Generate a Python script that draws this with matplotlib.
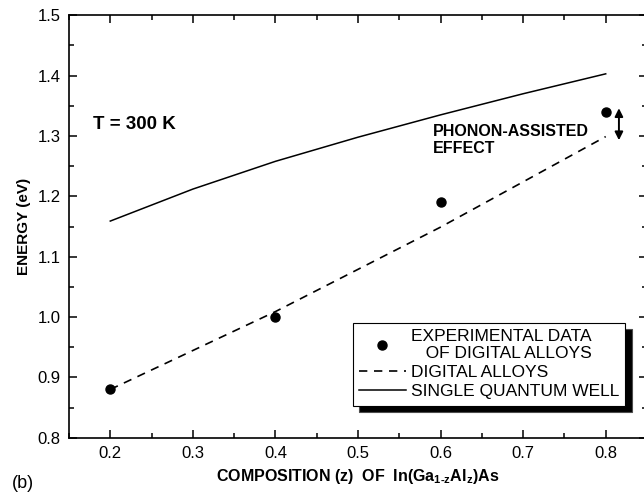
import matplotlib
matplotlib.use("Agg")
import matplotlib.pyplot as plt
from matplotlib.ticker import MultipleLocator, FormatStrFormatter

plt.rcParams['font.family'] = ['Liberation Sans', 'DejaVu Sans']
plt.rcParams['mathtext.fontset'] = 'custom'
plt.rcParams['mathtext.rm'] = 'Liberation Sans:bold'
plt.rcParams['mathtext.bf'] = 'Liberation Sans:bold'
plt.rcParams['mathtext.it'] = 'Liberation Sans:bold'
plt.rcParams['mathtext.default'] = 'rm'

# Data
exp_x = [0.2, 0.4, 0.6, 0.8]
exp_y = [0.88, 1.0, 1.19, 1.339]

da_x = [0.2, 0.4, 0.6, 0.8]
da_y = [0.88, 1.009, 1.149, 1.299]

sqw_x = [0.2, 0.3, 0.4, 0.5, 0.6, 0.7, 0.8]
sqw_y = [1.159, 1.212, 1.258, 1.298, 1.335, 1.370, 1.403]

arrow_x = 0.816
arrow_y = [1.293, 1.346]

fig = plt.figure(figsize=(6.44, 4.96), dpi=100)
ax = fig.add_axes([69/644, 1-437.7/496, 578/644, 422.4/496])

ax.plot(sqw_x, sqw_y, color='k', lw=1.1, label='SINGLE QUANTUM WELL')
ax.plot(da_x, da_y, color='k', lw=1.2, dashes=(5, 4), label='DIGITAL ALLOYS')
ax.plot(exp_x, exp_y, 'o', color='k', ms=6.5,
        label='EXPERIMENTAL DATA\n   OF DIGITAL ALLOYS')

ax.annotate('', xy=(arrow_x, arrow_y[0]), xytext=(arrow_x, arrow_y[1]),
            arrowprops=dict(arrowstyle='<|-|>', color='k', lw=1.4,
                            mutation_scale=12, shrinkA=0, shrinkB=0))

ax.set_xlim(0.15, 0.85)
ax.set_ylim(0.8, 1.5)
ax.xaxis.set_major_locator(MultipleLocator(0.1))
ax.xaxis.set_minor_locator(MultipleLocator(0.05))
ax.yaxis.set_major_locator(MultipleLocator(0.1))
ax.yaxis.set_minor_locator(MultipleLocator(0.05))
ax.xaxis.set_major_formatter(FormatStrFormatter('%.1f'))
ax.yaxis.set_major_formatter(FormatStrFormatter('%.1f'))
ax.tick_params(which='both', direction='in', top=True, right=True, width=1.1)
ax.tick_params(which='major', length=6, labelsize=12, pad=6)
ax.tick_params(which='minor', length=3.5)
for s in ax.spines.values():
    s.set_linewidth(1.2)

ax.set_ylabel('ENERGY (eV)', fontsize=11, fontweight='bold', labelpad=5)
ax.set_xlabel(r'COMPOSITION (z)  OF  In(Ga$_{1\text{-}z}$Al$_z$)As',
              fontsize=11.5, fontweight='bold', labelpad=4)

ax.text(0.179, 1.319, 'T = 300 K', fontsize=13.5, fontweight='bold',
        va='center', ha='left')
ax.text(0.591, 1.293, 'PHONON-ASSISTED\nEFFECT', fontsize=11.5, fontweight='bold',
        va='center', ha='left', linespacing=1.15)

handles, labels = ax.get_legend_handles_labels()
order = [2, 1, 0]
leg = ax.legend([handles[i] for i in order], [labels[i] for i in order],
                loc='upper left', bbox_to_anchor=(0.491, 0.2715),
                borderaxespad=0, fontsize=12.5, frameon=True, fancybox=False,
                edgecolor='k', framealpha=1, numpoints=1, handlelength=2.7,
                handletextpad=0.3, labelspacing=0.22, borderpad=0.35,
                shadow={'ox': 4.5, 'oy': -4.5, 'facecolor': 'k', 'alpha': 1})
leg.get_frame().set_linewidth(0.8)

fig.text(12/644, 1-483/496, '(b)', fontsize=13, va='center', ha='left')

fig.savefig('out.png', dpi=100)
